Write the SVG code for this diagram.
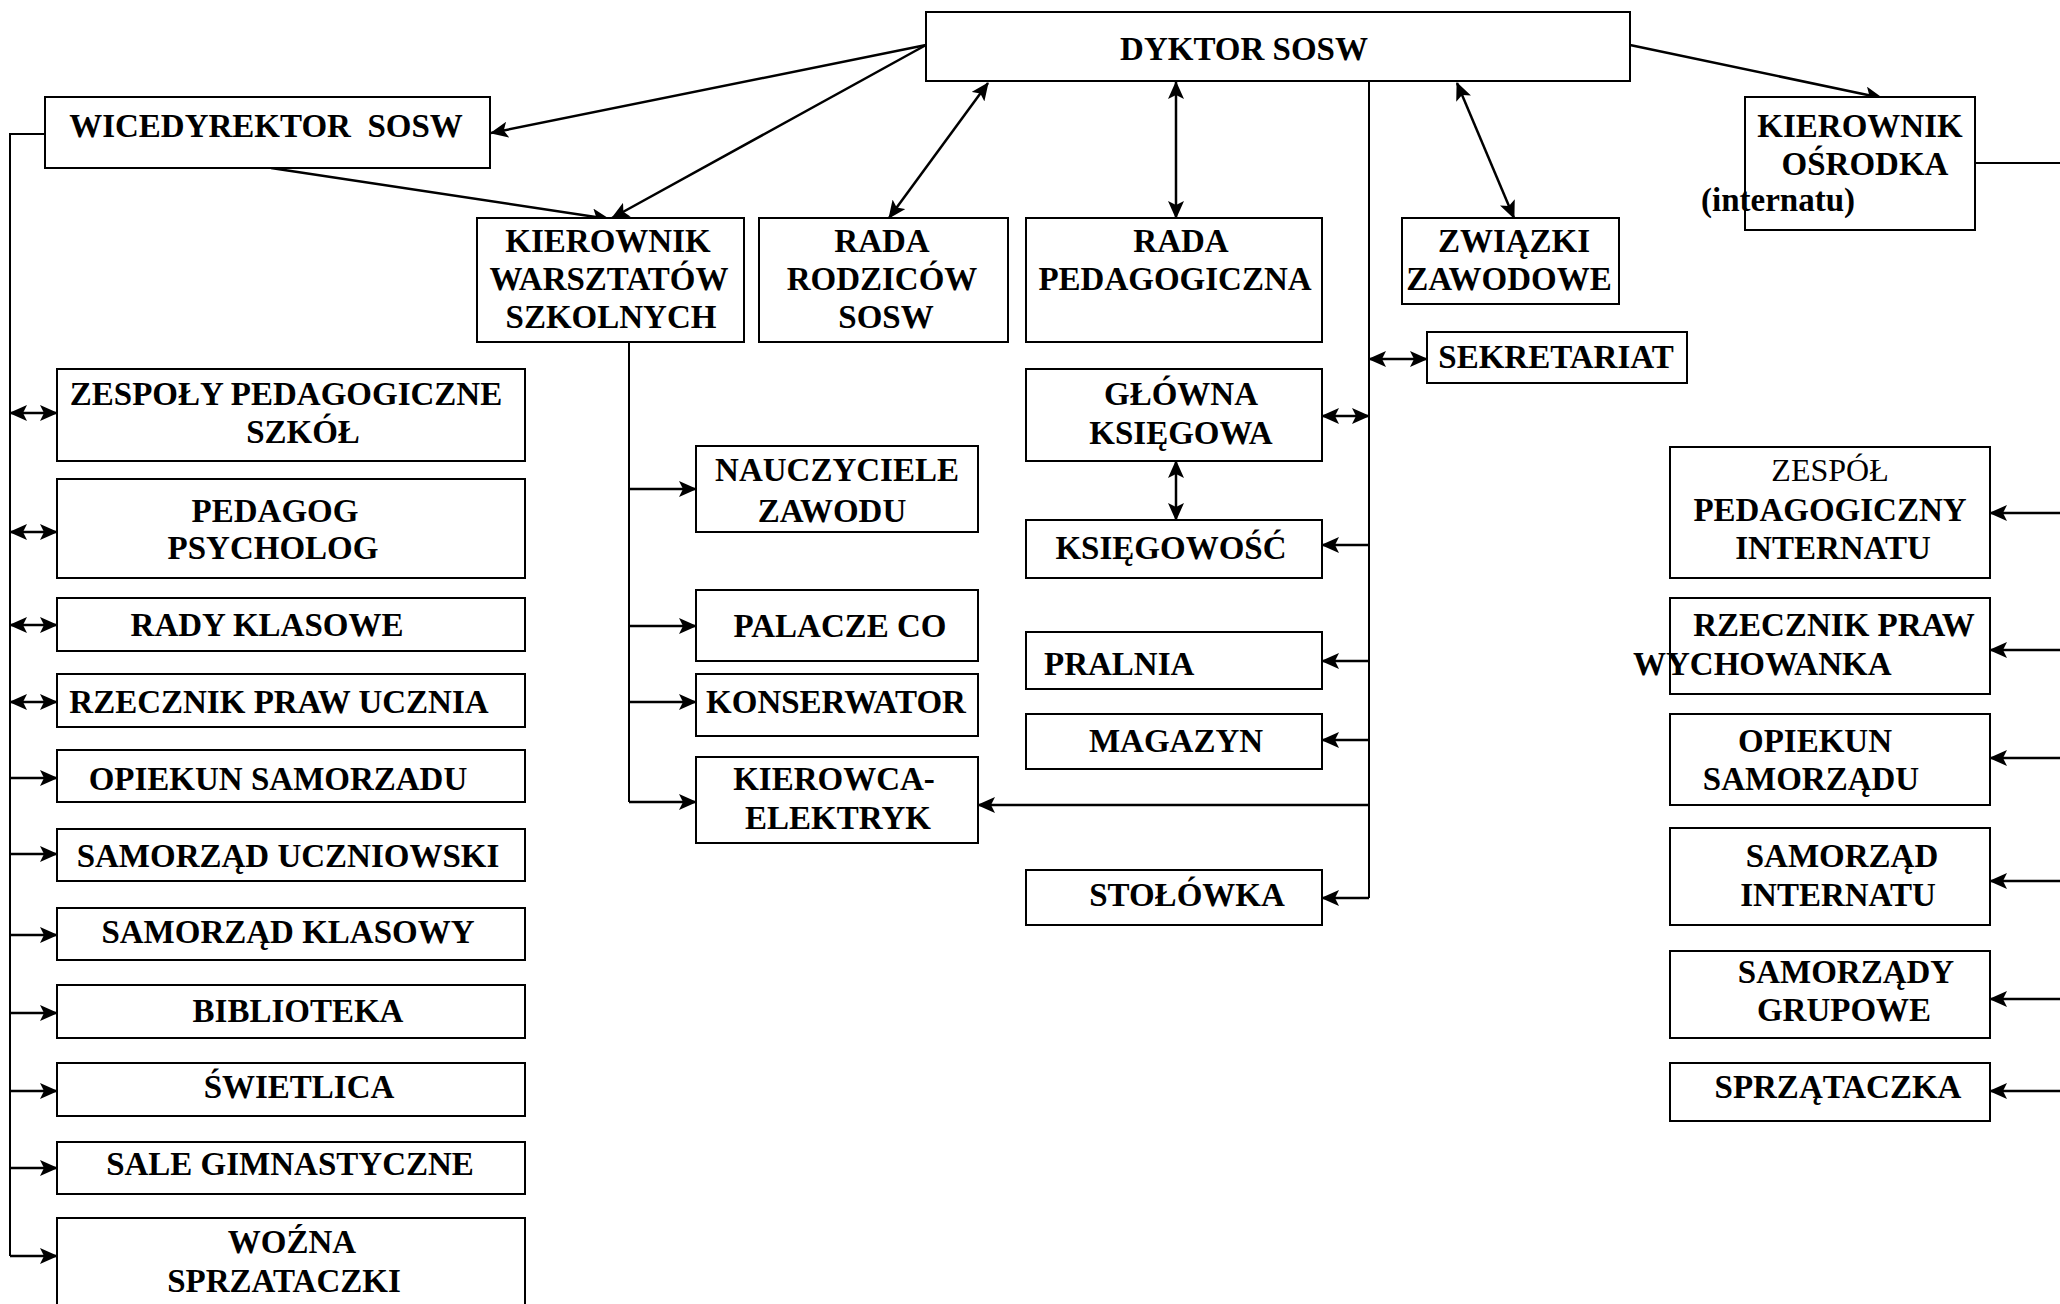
<svg xmlns="http://www.w3.org/2000/svg" width="2060" height="1304" viewBox="0 0 2060 1304">
<defs>
<marker id="ah" viewBox="0 0 18 16" refX="17" refY="8" markerWidth="18" markerHeight="16" markerUnits="userSpaceOnUse" orient="auto-start-reverse"><path d="M0,0 L18,8 L0,16 L4,8 z" fill="#000"/></marker>
<style>
.b{fill:#fff;stroke:#000;stroke-width:2}
.t{font-family:"Liberation Serif","Times New Roman",serif;font-weight:bold;font-size:33px;text-anchor:middle;fill:#000}
.n{font-weight:normal;font-size:32px}
.c line,.c polyline{stroke:#000;stroke-width:2;fill:none}
.c .s,.c .d{stroke-width:2.5}
.s{marker-end:url(#ah)}
.d{marker-start:url(#ah);marker-end:url(#ah)}
</style>
</defs>
<rect width="2060" height="1304" fill="#fff"/>
<g class="c" id="connectors">
<line class="s" x1="926" y1="45" x2="491" y2="133"/>
<line class="s" x1="926" y1="45" x2="612" y2="218"/>
<line class="s" x1="271" y1="168" x2="609" y2="219"/>
<line class="d" x1="889" y1="218" x2="988" y2="83"/>
<line class="d" x1="1176" y1="82" x2="1176" y2="218"/>
<line class="d" x1="1457" y1="83" x2="1514" y2="218"/>
<line class="s" x1="1630" y1="45" x2="1882" y2="98"/>
<line x1="1975" y1="163" x2="2060" y2="163"/>
<polyline points="45,134 10,134 10,1256"/>
<line class="d" x1="10" y1="413" x2="57" y2="413"/>
<line class="d" x1="10" y1="532" x2="57" y2="532"/>
<line class="d" x1="10" y1="625" x2="57" y2="625"/>
<line class="d" x1="10" y1="702" x2="57" y2="702"/>
<line class="s" x1="10" y1="778" x2="57" y2="778"/>
<line class="s" x1="10" y1="854" x2="57" y2="854"/>
<line class="s" x1="10" y1="935" x2="57" y2="935"/>
<line class="s" x1="10" y1="1013" x2="57" y2="1013"/>
<line class="s" x1="10" y1="1091" x2="57" y2="1091"/>
<line class="s" x1="10" y1="1168" x2="57" y2="1168"/>
<line class="s" x1="10" y1="1256" x2="57" y2="1256"/>
<line x1="629" y1="342" x2="629" y2="802"/>
<line class="s" x1="629" y1="489" x2="696" y2="489"/>
<line class="s" x1="629" y1="626" x2="696" y2="626"/>
<line class="s" x1="629" y1="702" x2="696" y2="702"/>
<line class="s" x1="629" y1="802" x2="696" y2="802"/>
<line x1="1369" y1="81" x2="1369" y2="898"/>
<line class="d" x1="1369" y1="359" x2="1427" y2="359"/>
<line class="d" x1="1322" y1="416" x2="1369" y2="416"/>
<line class="d" x1="1176" y1="461" x2="1176" y2="520"/>
<line class="s" x1="1369" y1="545" x2="1322" y2="545"/>
<line class="s" x1="1369" y1="661" x2="1322" y2="661"/>
<line class="s" x1="1369" y1="740" x2="1322" y2="740"/>
<line class="s" x1="1369" y1="805" x2="978" y2="805"/>
<line class="s" x1="1369" y1="898" x2="1322" y2="898"/>
<line class="s" x1="2060" y1="513" x2="1990" y2="513"/>
<line class="s" x1="2060" y1="650" x2="1990" y2="650"/>
<line class="s" x1="2060" y1="758" x2="1990" y2="758"/>
<line class="s" x1="2060" y1="881" x2="1990" y2="881"/>
<line class="s" x1="2060" y1="999" x2="1990" y2="999"/>
<line class="s" x1="2060" y1="1091" x2="1990" y2="1091"/>
</g>
<g id="dyrektor"><rect class="b" x="926" y="12" width="704" height="69"/><text class="t" x="1244" y="60">DYKTOR SOSW</text></g>
<g id="wicedyrektor"><rect class="b" x="45" y="97" width="445" height="71"/><text class="t" x="266" y="137" xml:space="preserve">WICEDYREKTOR  SOSW</text></g>
<g id="kier-warsztatow"><rect class="b" x="477" y="218" width="267" height="124"/><text class="t" x="608" y="252">KIEROWNIK</text><text class="t" x="609" y="290">WARSZTATÓW</text><text class="t" x="611" y="328">SZKOLNYCH</text></g>
<g id="rada-rodzicow"><rect class="b" x="759" y="218" width="249" height="124"/><text class="t" x="882" y="252">RADA</text><text class="t" x="882" y="290">RODZICÓW</text><text class="t" x="886" y="328">SOSW</text></g>
<g id="rada-ped"><rect class="b" x="1026" y="218" width="296" height="124"/><text class="t" x="1181" y="252">RADA</text><text class="t" x="1175" y="290">PEDAGOGICZNA</text></g>
<g id="zwiazki"><rect class="b" x="1402" y="218" width="217" height="86"/><text class="t" x="1514" y="252">ZWIĄZKI</text><text class="t" x="1509" y="290">ZAWODOWE</text></g>
<g id="kier-osrodka"><rect class="b" x="1745" y="97" width="230" height="133"/><text class="t" x="1860" y="137">KIEROWNIK</text><text class="t" x="1865" y="175">OŚRODKA</text><text class="t" x="1778" y="211">(internatu)</text></g>
<g id="sekretariat"><rect class="b" x="1427" y="332" width="260" height="51"/><text class="t" x="1556" y="368">SEKRETARIAT</text></g>
<g id="glowna"><rect class="b" x="1026" y="369" width="296" height="92"/><text class="t" x="1181" y="405">GŁÓWNA</text><text class="t" x="1181" y="444">KSIĘGOWA</text></g>
<g id="ksiegowosc"><rect class="b" x="1026" y="520" width="296" height="58"/><text class="t" x="1171" y="559">KSIĘGOWOŚĆ</text></g>
<g id="pralnia"><rect class="b" x="1026" y="632" width="296" height="57"/><text class="t" x="1044" y="675" style="text-anchor:start">PRALNIA</text></g>
<g id="magazyn"><rect class="b" x="1026" y="714" width="296" height="55"/><text class="t" x="1176" y="752">MAGAZYN</text></g>
<g id="stolowka"><rect class="b" x="1026" y="870" width="296" height="55"/><text class="t" x="1187" y="906">STOŁÓWKA</text></g>
<g id="nauczyciele"><rect class="b" x="696" y="446" width="282" height="86"/><text class="t" x="837" y="481">NAUCZYCIELE</text><text class="t" x="832" y="522">ZAWODU</text></g>
<g id="palacze"><rect class="b" x="696" y="590" width="282" height="71"/><text class="t" x="840" y="637">PALACZE CO</text></g>
<g id="konserwator"><rect class="b" x="696" y="674" width="282" height="62"/><text class="t" x="836" y="713">KONSERWATOR</text></g>
<g id="kierowca"><rect class="b" x="696" y="757" width="282" height="86"/><text class="t" x="834" y="790">KIEROWCA-</text><text class="t" x="838" y="829">ELEKTRYK</text></g>
<g id="zespoly"><rect class="b" x="57" y="369" width="468" height="92"/><text class="t" x="286" y="405">ZESPOŁY PEDAGOGICZNE</text><text class="t" x="303" y="443">SZKÓŁ</text></g>
<g id="pedagog"><rect class="b" x="57" y="479" width="468" height="99"/><text class="t" x="275" y="522">PEDAGOG</text><text class="t" x="273" y="559">PSYCHOLOG</text></g>
<g id="rady"><rect class="b" x="57" y="598" width="468" height="53"/><text class="t" x="267" y="636">RADY KLASOWE</text></g>
<g id="rzecznik-ucznia"><rect class="b" x="57" y="674" width="468" height="53"/><text class="t" x="279" y="713">RZECZNIK PRAW UCZNIA</text></g>
<g id="opiekun"><rect class="b" x="57" y="750" width="468" height="52"/><text class="t" x="278" y="790">OPIEKUN SAMORZADU</text></g>
<g id="sam-uczn"><rect class="b" x="57" y="829" width="468" height="52"/><text class="t" x="288" y="867">SAMORZĄD UCZNIOWSKI</text></g>
<g id="sam-klas"><rect class="b" x="57" y="908" width="468" height="52"/><text class="t" x="288" y="943">SAMORZĄD KLASOWY</text></g>
<g id="biblioteka"><rect class="b" x="57" y="985" width="468" height="53"/><text class="t" x="298" y="1022">BIBLIOTEKA</text></g>
<g id="swietlica"><rect class="b" x="57" y="1063" width="468" height="53"/><text class="t" x="299" y="1098">ŚWIETLICA</text></g>
<g id="sale"><rect class="b" x="57" y="1142" width="468" height="52"/><text class="t" x="290" y="1175">SALE GIMNASTYCZNE</text></g>
<g id="wozna"><rect class="b" x="57" y="1218" width="468" height="100"/><text class="t" x="292" y="1253">WOŹNA</text><text class="t" x="284" y="1292">SPRZATACZKI</text></g>
<g id="zespol-int"><rect class="b" x="1670" y="447" width="320" height="131"/><text class="t n" x="1830" y="481">ZESPÓŁ</text><text class="t" x="1830" y="521">PEDAGOGICZNY</text><text class="t" x="1833" y="559">INTERNATU</text></g>
<g id="rzecznik-wych"><rect class="b" x="1670" y="598" width="320" height="96"/><text class="t" x="1834" y="636">RZECZNIK PRAW</text><text class="t" x="1633" y="675" style="text-anchor:start">WYCHOWANKA</text></g>
<g id="opiekun-int"><rect class="b" x="1670" y="714" width="320" height="91"/><text class="t" x="1815" y="752">OPIEKUN</text><text class="t" x="1811" y="790">SAMORZĄDU</text></g>
<g id="sam-int"><rect class="b" x="1670" y="828" width="320" height="97"/><text class="t" x="1842" y="867">SAMORZĄD</text><text class="t" x="1838" y="906">INTERNATU</text></g>
<g id="sam-grup"><rect class="b" x="1670" y="951" width="320" height="87"/><text class="t" x="1846" y="983">SAMORZĄDY</text><text class="t" x="1844" y="1021">GRUPOWE</text></g>
<g id="sprzataczka"><rect class="b" x="1670" y="1063" width="320" height="58"/><text class="t" x="1838" y="1098">SPRZĄTACZKA</text></g>
</svg>
